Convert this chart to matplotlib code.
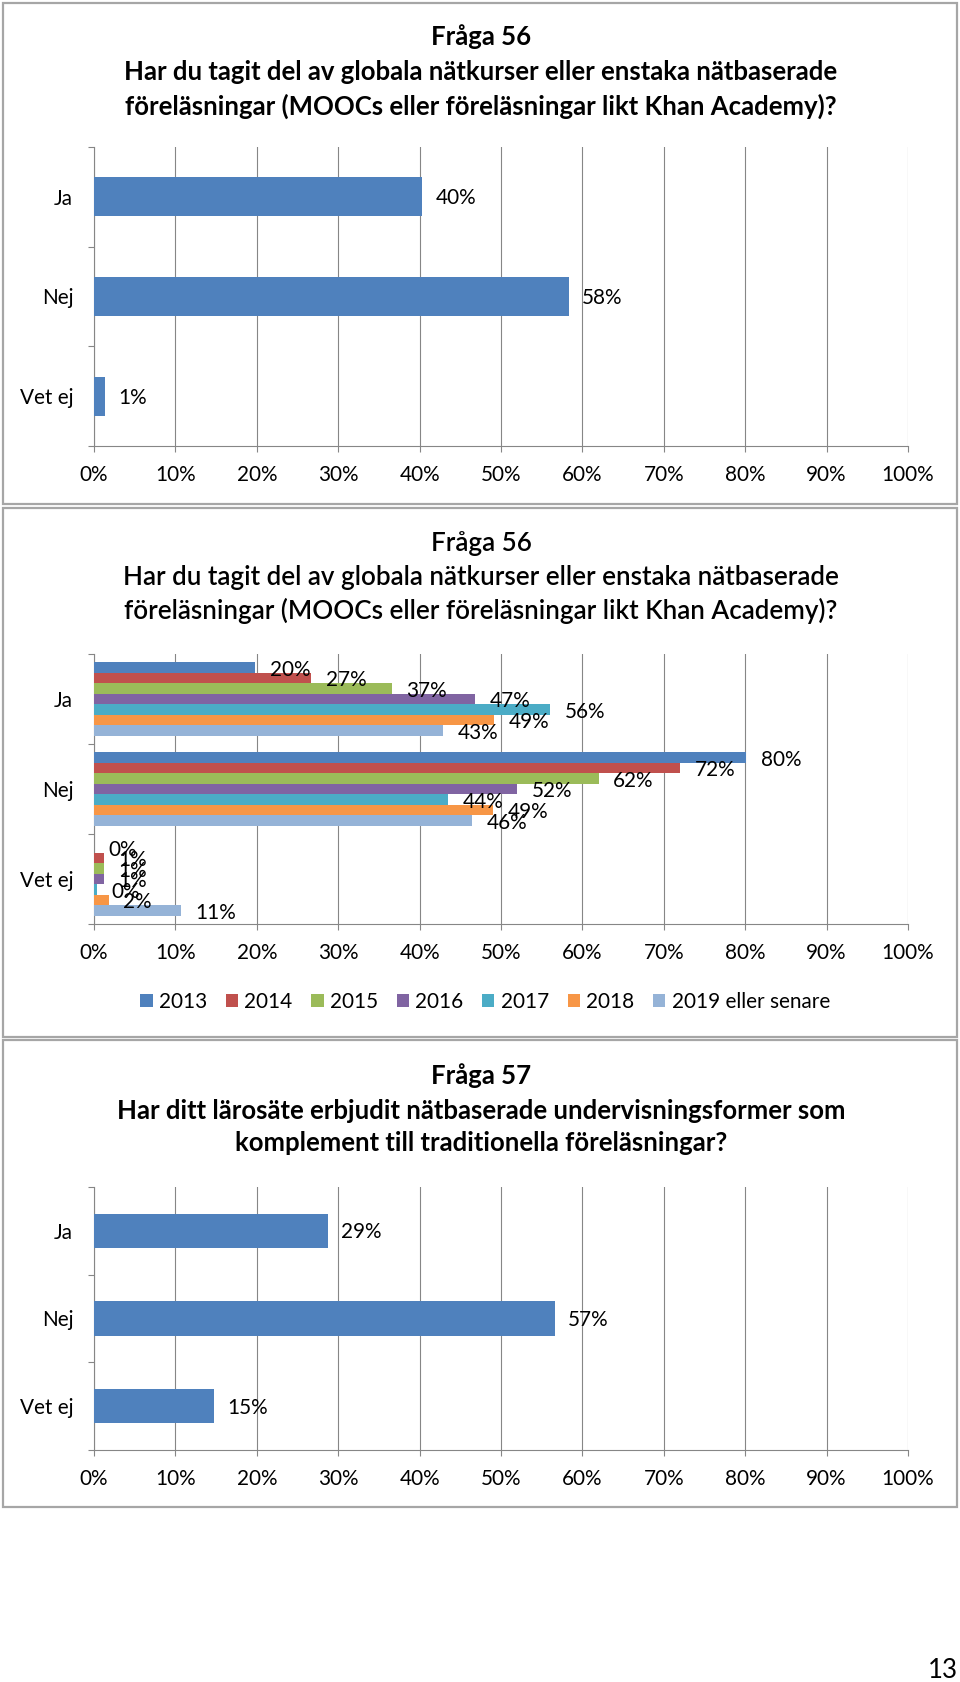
import numpy as np
import matplotlib
matplotlib.use("Agg")
import matplotlib.pyplot as plt
from matplotlib.patches import Rectangle

plt.rcParams['font.family'] = ['Lato', 'DejaVu Sans']

# ==========================================
# data
# ==========================================
categories = ['Ja', 'Nej', 'Vet ej']

q56_values = [40.3, 58.3, 1.3]
q56_labels = ['40%', '58%', '1%']

years = ['2013', '2014', '2015', '2016', '2017', '2018', '2019 eller senare']
q56_years_ja = [19.8, 26.7, 36.6, 46.8, 56.0, 49.1, 42.9]
q56_years_nej = [80.1, 72.0, 62.0, 52.0, 43.5, 49.0, 46.4]
q56_years_vetej = [0.0, 1.2, 1.2, 1.2, 0.4, 1.8, 10.7]
q56_years_lab_ja = ['20%', '27%', '37%', '47%', '56%', '49%', '43%']
q56_years_lab_nej = ['80%', '72%', '62%', '52%', '44%', '49%', '46%']
q56_years_lab_vetej = ['0%', '1%', '1%', '1%', '0%', '2%', '11%']

q57_values = [28.7, 56.6, 14.7]
q57_labels = ['29%', '57%', '15%']

title_56 = ['Fråga 56',
            'Har du tagit del av globala nätkurser eller enstaka nätbaserade',
            'föreläsningar (MOOCs eller föreläsningar likt Khan Academy)?']
title_57 = ['Fråga 57',
            'Har ditt lärosäte erbjudit nätbaserade undervisningsformer som',
            'komplement till traditionella föreläsningar?']

xticks = np.arange(0, 101, 10)
xticklabels = [f'{v}%' for v in xticks]

# ==========================================
# style
# ==========================================
W, H = 960, 1682
BLUE = '#4F81BD'
YEAR_COLORS = ['#4F81BD', '#C0504D', '#9BBB59', '#8064A2', '#4BACC6', '#F79646', '#95B3D7']
GRID = '#868686'
BOX = '#A6A6A6'

fig = plt.figure(figsize=(W / 100, H / 100), dpi=100)
renderer = fig.canvas.get_renderer()


def px_rect(x0, y0, x1, y1):
    """ pixel box (y from top) -> figure fraction [l, b, w, h] """
    return [x0 / W, 1 - y1 / H, (x1 - x0) / W, (y1 - y0) / H]


def fit_size(text, size, target_px, weight='normal'):
    t = fig.text(0, 0, text, fontsize=size, fontweight=weight)
    w = t.get_window_extent(renderer).width
    t.remove()
    return size * target_px / w


# Calibri in the original is narrower and taller than Lato, so go a bit over the width
LABEL_FS = fit_size('100%', 14, 49) * 1.08

# frames round each chart
for (y0, y1) in [(3, 504), (508, 1037), (1040, 1507)]:
    fig.patches.append(Rectangle((3 / W, 1 - y1 / H), 954 / W, (y1 - y0) / H,
                                 transform=fig.transFigure, fill=False,
                                 edgecolor=BOX, linewidth=1.6))


def draw_title(lines, ys, target_px, weight):
    fs = fit_size(lines[1], 17, target_px, weight)
    for line, y in zip(lines, ys):
        fig.text(481 / W, 1 - y / H, line, ha='center', va='center',
                 fontsize=fs, fontweight=weight)


def style_axes(ax):
    ax.set_xlim(0, 100)
    ax.set_ylim(2.5, -0.5)
    ax.set_xticks(xticks)
    ax.set_xticklabels(xticklabels, fontsize=LABEL_FS)
    ax.set_yticks(range(len(categories)))
    ax.set_yticklabels(categories, fontsize=LABEL_FS)
    ax.set_yticks([-0.5, 0.5, 1.5, 2.5], minor=True)
    ax.tick_params(axis='y', which='major', length=0, pad=15)
    ax.tick_params(axis='y', which='minor', length=4, color=GRID, width=0.8)
    ax.tick_params(axis='x', length=4, color=GRID, width=0.8, pad=9.5)
    ax.grid(axis='x', color=GRID, linewidth=0.8)
    ax.set_axisbelow(True)
    for s in ['top', 'right']:
        ax.spines[s].set_visible(False)
    for s in ['left', 'bottom']:
        ax.spines[s].set_color(GRID)
        ax.spines[s].set_linewidth(0.8)


def simple_chart(rect, values, labels):
    ax = fig.add_axes(px_rect(*rect))
    style_axes(ax)
    ypos = np.arange(len(categories))
    ax.barh(ypos, values, height=0.39, color=BLUE, edgecolor='none', zorder=3)
    for y, v, lab in zip(ypos, values, labels):
        ax.annotate(lab, (v, y), xytext=(9.5, -1), textcoords='offset points',
                    ha='left', va='center', fontsize=LABEL_FS)
    return ax


# ---- chart 1 ----
draw_title(title_56, [37, 72, 106], 715, 'bold')
simple_chart((94, 147, 908, 446), q56_values, q56_labels)

# ---- chart 2 ----
draw_title(title_56, [543, 577, 611], 715, 'semibold')
ax2 = fig.add_axes(px_rect(94, 654, 908, 924))
style_axes(ax2)
group_w = 0.815
bar_h = group_w / len(years)
series = list(zip(q56_years_ja, q56_years_nej, q56_years_vetej))
series_labels = list(zip(q56_years_lab_ja, q56_years_lab_nej, q56_years_lab_vetej))
for i, (year, col) in enumerate(zip(years, YEAR_COLORS)):
    ypos = np.arange(len(categories)) - group_w / 2 + (i + 0.5) * bar_h
    ax2.barh(ypos, series[i], height=bar_h, color=col, edgecolor='none',
             zorder=3, label=year)
    for y, v, lab in zip(ypos, series[i], series_labels[i]):
        ax2.annotate(lab, (v, y), xytext=(10.5, -1.5), textcoords='offset points',
                     ha='left', va='center', fontsize=LABEL_FS, zorder=4)

handles, labs = ax2.get_legend_handles_labels()
fig.legend(handles, labs, loc='center', bbox_to_anchor=(485 / W, 1 - 1002 / H),
           ncol=7, frameon=False, fontsize=LABEL_FS, handlelength=0.6,
           handleheight=0.6, handletextpad=0.3, columnspacing=0.9)

# ---- chart 3 ----
draw_title(title_57, [1076, 1111, 1143], 731, 'bold')
simple_chart((94, 1187, 908, 1450), q57_values, q57_labels)

# page number
fig.text(958 / W, 1 - 1670 / H, '13', ha='right', va='center',
         fontsize=LABEL_FS * 1.25)

fig.savefig('out.png', dpi=100)
